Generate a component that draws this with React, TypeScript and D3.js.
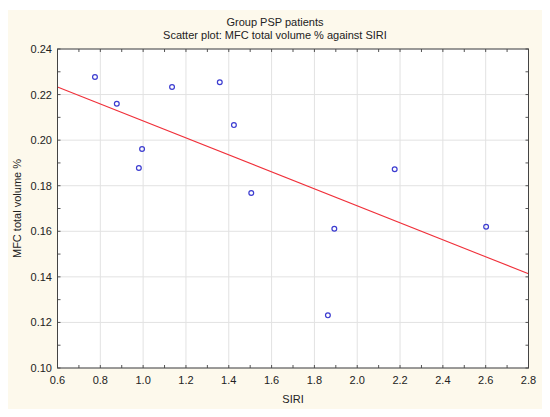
import React from "react";
import * as d3 from "d3";

const siri = [0.775, 0.877, 1.135, 1.358, 1.424, 0.995, 0.98, 1.505, 2.175, 1.893, 1.863, 2.602];
const mfc = [0.2277, 0.216, 0.2233, 0.2254, 0.2066, 0.1961, 0.1878, 0.1768, 0.1872, 0.1611, 0.1231, 0.162];
const xTicks = [0.6, 0.8, 1.0, 1.2, 1.4, 1.6, 1.8, 2.0, 2.2, 2.4, 2.6, 2.8];
const yTicks = [0.1, 0.12, 0.14, 0.16, 0.18, 0.2, 0.22, 0.24];
const titleLines = ["Group PSP patients", "Scatter plot: MFC total volume % against SIRI"];
const xLabel = "SIRI";
const yLabel = "MFC total volume %";

export default function App() {
  const W = 550, H = 417;
  const L = 57.5, R = 528.5, T = 49, B = 368;
  const x = d3.scaleLinear().domain([0.6, 2.8]).range([L, R]);
  const y = d3.scaleLinear().domain([0.1, 0.24]).range([B, T]);

  const mx = d3.mean(siri)!;
  const my = d3.mean(mfc)!;
  let sxy = 0, sxx = 0;
  siri.forEach((v, i) => { sxy += (v - mx) * (mfc[i] - my); sxx += (v - mx) * (v - mx); });
  const slope = sxy / sxx;
  const icpt = my - slope * mx;
  const line = d3.line<number>().x((d) => x(d)).y((d) => y(icpt + slope * d));

  const xMinor = d3.range(0.7, 2.8, 0.2);
  const yMinor = d3.range(0.11, 0.24, 0.02);
  const font = "Liberation Sans, Arial, sans-serif";
  const tk = 3;

  return (
    <svg width={W} height={H} style={{ position: "absolute", left: 0, top: 0 }}>
      <rect x={0} y={0} width={W} height={H} fill="#ffffff" />
      <rect x={8} y={10} width={534} height={399} fill="#fdf9ec" />
      <rect x={L} y={T} width={R - L} height={B - T} fill="#ffffff" />
      {xTicks.map((t) => (
        <line key={"gx" + t} x1={x(t)} x2={x(t)} y1={T} y2={B} stroke="#e2e2e2" strokeWidth={1} />
      ))}
      {yTicks.map((t) => (
        <line key={"gy" + t} x1={L} x2={R} y1={y(t)} y2={y(t)} stroke="#e2e2e2" strokeWidth={1} />
      ))}
      {/* ticks */}
      {xTicks.concat(xMinor).map((t, i) => (
        <g key={"tx" + i} stroke="#555" strokeWidth={1}>
          <line x1={x(t)} x2={x(t)} y1={B} y2={B - tk} />
          <line x1={x(t)} x2={x(t)} y1={T} y2={T + tk} />
        </g>
      ))}
      {yTicks.concat(yMinor).map((t, i) => (
        <g key={"ty" + i} stroke="#555" strokeWidth={1}>
          <line x1={L} x2={L + tk} y1={y(t)} y2={y(t)} />
          <line x1={R} x2={R - tk} y1={y(t)} y2={y(t)} />
        </g>
      ))}
      <path d={line([0.6, 2.8]) || ""} fill="none" stroke="#f0303a" strokeWidth={1.1} />
      {siri.map((v, i) => (
        <circle key={"p" + i} cx={x(v)} cy={y(mfc[i])} r={2.4} fill="none" stroke="#3c3cd0" strokeWidth={1.2} />
      ))}
      <rect x={L} y={T} width={R - L} height={B - T} fill="none" stroke="#444" strokeWidth={1} />
      {xTicks.map((t) => (
        <text key={"lx" + t} x={x(t)} y={384} textAnchor="middle" fontFamily={font} fontSize={11} fill="#222">
          {t.toFixed(1)}
        </text>
      ))}
      {yTicks.map((t) => (
        <text key={"ly" + t} x={52} y={y(t) + 4} textAnchor="end" fontFamily={font} fontSize={11} fill="#222">
          {t.toFixed(2)}
        </text>
      ))}
      <text x={(L + R) / 2} y={403} textAnchor="middle" fontFamily={font} fontSize={11} fill="#222">{xLabel}</text>
      <text transform={`translate(21,${(T + B) / 2}) rotate(-90)`} textAnchor="middle" fontFamily={font} fontSize={11} fill="#222">{yLabel}</text>
      {titleLines.map((s, i) => (
        <text key={"t" + i} x={275} y={26 + i * 13} textAnchor="middle" fontFamily={font} fontSize={11} fill="#222">{s}</text>
      ))}
    </svg>
  );
}
